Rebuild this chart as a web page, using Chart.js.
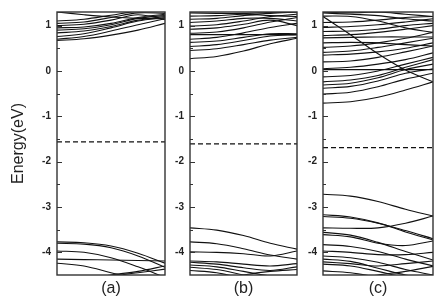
<!DOCTYPE html>
<html>
<head>
<meta charset="utf-8">
<script src="https://cdn.jsdelivr.net/npm/chart.js@4.4.1/dist/chart.umd.min.js"></script>
<style>
  body { margin: 0; background: #fff; }
  #wrap { position: relative; width: 436px; height: 304px; }
  canvas { position: absolute; top: 0; }
</style>
</head>
<body>
<div id="wrap">
  <canvas id="panelA" width="170" height="304" style="left:0px"></canvas>
  <canvas id="panelB" width="130" height="304" style="left:170px"></canvas>
  <canvas id="panelC" width="136" height="304" style="left:300px"></canvas>
</div>
<script>
// k-path sample points (same for every band)
const kPoints = [0, 0.25, 0.5, 0.75, 1];

// axis values
const yMin = -4.5;
const yMax = 1.3;
const yTicks = [-4, -3, -2, -1, 0, 1];
const yMinorTicks = [-3.5, -2.5, -1.5, -0.5, 0.5];
const yTitle = "Energy(eV)";

const panelLabels = ["(a)", "(b)", "(c)"];
const fermiLevels = [-1.565, -1.61, -1.69];

// panel (a) bands
const bandsA = [
  [0.67, 0.71, 0.79, 0.90, 1.05],
  [0.70, 0.76, 0.88, 1.02, 1.15],
  [0.76, 0.82, 0.95, 1.10, 1.18],
  [0.84, 0.88, 0.98, 1.12, 1.20],
  [0.90, 0.93, 1.02, 1.16, 1.22],
  [0.95, 0.97, 1.05, 1.18, 1.25],
  [1.00, 1.03, 1.12, 1.24, 1.13],
  [1.05, 1.08, 1.18, 1.28, 1.27],
  [1.10, 1.14, 1.23, 1.32, 1.35],
  [1.30, 1.24, 1.19, 1.16, 1.15],
  [-3.77, -3.79, -3.86, -4.02, -4.24],
  [-3.80, -3.82, -3.90, -4.08, -4.33],
  [-3.97, -4.00, -4.12, -4.32, -4.55],
  [-4.15, -4.16, -4.17, -4.18, -4.19],
  [-4.24, -4.30, -4.45, -4.60, -4.70],
  [-4.70, -4.60, -4.50, -4.42, -4.30],
  [-4.60, -4.55, -4.52, -4.45, -4.37]
];

// panel (b) bands
const bandsB = [
  [0.27, 0.32, 0.44, 0.60, 0.72],
  [0.45, 0.49, 0.58, 0.68, 0.74],
  [0.54, 0.58, 0.67, 0.77, 0.80],
  [0.63, 0.66, 0.74, 0.82, 0.82],
  [0.70, 0.74, 0.84, 0.96, 1.05],
  [0.80, 0.80, 0.80, 0.80, 0.80],
  [0.83, 0.86, 0.95, 1.08, 1.18],
  [0.92, 0.95, 1.03, 1.12, 1.00],
  [0.99, 1.02, 1.10, 1.20, 1.25],
  [1.07, 1.10, 1.16, 1.16, 1.10],
  [1.14, 1.16, 1.22, 1.27, 1.30],
  [1.21, 1.22, 1.25, 1.22, 1.20],
  [1.28, 1.27, 1.27, 1.29, 1.30],
  [-3.46, -3.51, -3.63, -3.80, -3.93],
  [-3.77, -3.81, -3.92, -4.06, -4.15],
  [-3.99, -4.00, -4.03, -4.08, -3.97],
  [-4.19, -4.21, -4.26, -4.30, -4.25],
  [-4.22, -4.26, -4.34, -4.40, -4.32],
  [-4.28, -4.32, -4.42, -4.52, -4.55],
  [-4.33, -4.38, -4.50, -4.62, -4.65],
  [-4.40, -4.45, -4.58, -4.70, -4.75],
  [-4.70, -4.62, -4.50, -4.42, -4.38]
];

// panel (c) bands
const bandsC = [
  [-0.71, -0.68, -0.58, -0.42, -0.24],
  [-0.51, -0.47, -0.35, -0.18, -0.05],
  [-0.38, -0.34, -0.22, -0.05, 0.05],
  [-0.31, -0.27, -0.15, 0.03, 0.15],
  [-0.24, -0.20, -0.10, 0.08, 0.25],
  [-0.13, -0.10, 0.00, 0.15, 0.30],
  [0.03, 0.03, 0.03, 0.03, 0.03],
  [0.05, 0.08, 0.15, 0.25, 0.40],
  [0.20, 0.22, 0.30, 0.42, 0.55],
  [0.35, 0.37, 0.42, 0.50, 0.62],
  [0.41, 0.44, 0.52, 0.62, 0.72],
  [0.52, 0.55, 0.62, 0.72, 0.85],
  [0.62, 0.63, 0.62, 0.58, 0.55],
  [0.73, 0.74, 0.75, 0.75, 0.75],
  [0.78, 0.80, 0.85, 0.92, 1.00],
  [0.87, 0.88, 0.92, 1.00, 1.05],
  [0.96, 0.98, 1.02, 1.08, 1.15],
  [1.07, 1.08, 1.12, 1.18, 1.20],
  [1.20, 0.80, 0.38, 0.02, -0.24],
  [1.21, 1.20, 1.10, 0.95, 0.85],
  [1.28, 1.25, 1.22, 1.15, 1.10],
  [1.30, 1.28, 1.30, 1.25, 1.20],
  [-2.72, -2.76, -2.88, -3.05, -3.20],
  [-3.17, -3.22, -3.35, -3.55, -3.73],
  [-3.21, -3.25, -3.36, -3.52, -3.70],
  [-3.46, -3.47, -3.46, -3.36, -3.20],
  [-3.56, -3.62, -3.78, -3.98, -4.17],
  [-3.61, -3.66, -3.80, -3.85, -3.75],
  [-3.83, -3.87, -3.98, -4.15, -4.30],
  [-3.97, -4.00, -4.05, -4.05, -4.00],
  [-4.08, -4.12, -4.22, -4.38, -4.50],
  [-4.15, -4.20, -4.35, -4.50, -4.60],
  [-4.21, -4.25, -4.30, -4.25, -4.19],
  [-4.26, -4.30, -4.42, -4.55, -4.60],
  [-4.41, -4.45, -4.55, -4.65, -4.70],
  [-4.60, -4.60, -4.50, -4.42, -4.31]
];

const FONT = "'Liberation Sans', Arial, sans-serif";

// draws the box round the plot and the inward ticks
const framePlugin = {
  id: "frame",
  afterDraw(chart) {
    const { ctx, chartArea: a, scales } = chart;
    const y = scales.y;
    ctx.save();
    ctx.strokeStyle = "#333";
    ctx.lineWidth = 1.4;
    ctx.strokeRect(a.left, a.top, a.right - a.left, a.bottom - a.top);
    ctx.lineWidth = 1.2;
    ctx.beginPath();
    yTicks.forEach(v => {
      const py = Math.round(y.getPixelForValue(v)) + 0.5;
      ctx.moveTo(a.left, py);
      ctx.lineTo(a.left + 5, py);
    });
    yMinorTicks.forEach(v => {
      const py = Math.round(y.getPixelForValue(v)) + 0.5;
      ctx.moveTo(a.left, py);
      ctx.lineTo(a.left + 3, py);
    });
    ctx.stroke();
    ctx.restore();
  }
};

function makePanel(id, bands, fermi, label, axisW, padRight, showTitle) {
  const datasets = bands.map(b => ({
    data: kPoints.map((k, i) => ({ x: k, y: b[i] })),
    borderColor: "#111",
    borderWidth: 1.1,
    pointRadius: 0,
    tension: 0.35,
    clip: 0
  }));
  datasets.push({
    data: [{ x: 0, y: fermi }, { x: 1, y: fermi }],
    borderColor: "#111",
    borderWidth: 1.2,
    borderDash: [5, 3],
    pointRadius: 0,
    clip: 0
  });

  new Chart(document.getElementById(id), {
    type: "line",
    data: { datasets },
    options: {
      responsive: false,
      animation: false,
      devicePixelRatio: 1,
      layout: { padding: { top: 9, right: padRight, bottom: 0, left: 0 } },
      plugins: { legend: { display: false }, tooltip: { enabled: false } },
      scales: {
        x: {
          type: "linear",
          min: 0,
          max: 1,
          grid: { display: false },
          border: { display: false },
          ticks: { display: false },
          title: {
            display: true,
            text: label,
            color: "#222",
            font: { family: FONT, size: 16 },
            padding: { top: 0, bottom: 6 }
          },
          afterFit: s => { s.height = 29; }
        },
        y: {
          type: "linear",
          min: yMin,
          max: yMax,
          grid: { display: false, drawTicks: false },
          border: { display: false },
          afterBuildTicks: s => { s.ticks = yTicks.map(v => ({ value: v })); },
          ticks: {
            color: "#222",
            padding: 6,
            font: { family: FONT, size: 10, weight: "bold" }
          },
          title: {
            display: showTitle,
            text: yTitle,
            color: "#222",
            font: { family: FONT, size: 16 },
            padding: { top: 9, bottom: 0 }
          },
          afterFit: s => { s.width = axisW; }
        }
      }
    },
    plugins: [framePlugin]
  });
}

makePanel("panelA", bandsA, fermiLevels[0], panelLabels[0], 57, 5, true);
makePanel("panelB", bandsB, fermiLevels[1], panelLabels[1], 20, 3, false);
makePanel("panelC", bandsC, fermiLevels[2], panelLabels[2], 23, 3, false);
</script>
</body>
</html>
